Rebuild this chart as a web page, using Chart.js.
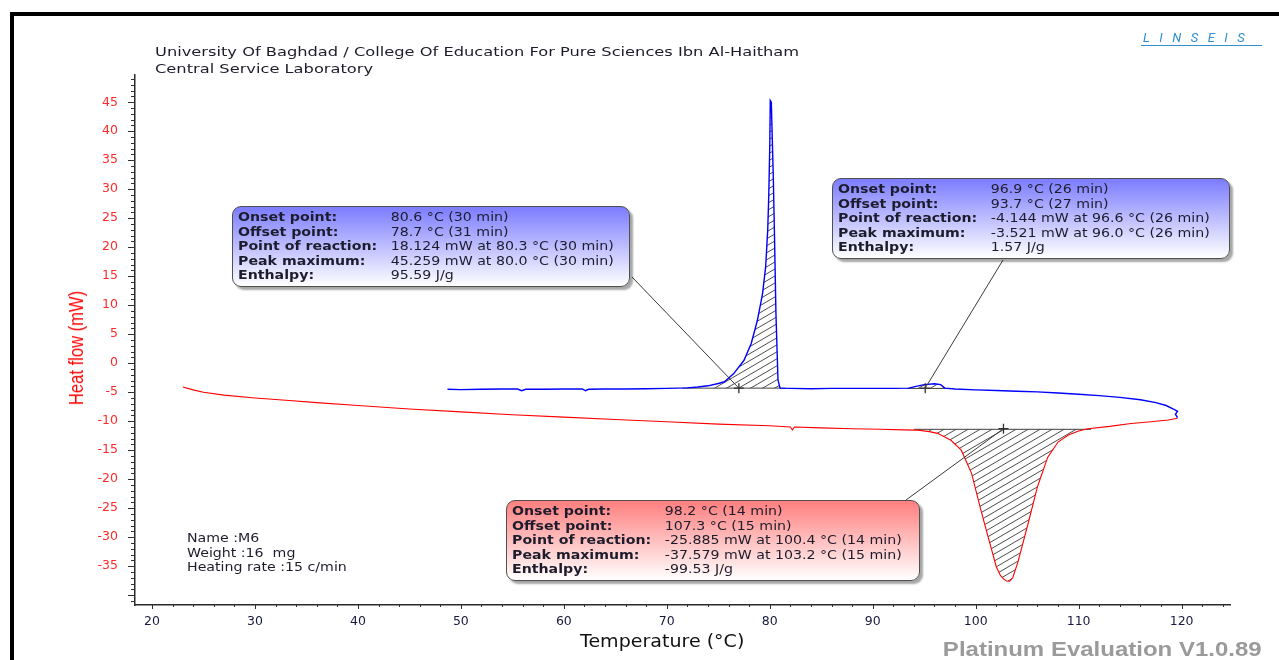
<!DOCTYPE html>
<html lang="en">
<head>
<meta charset="UTF-8">
<title>DSC - M6</title>
<script src="https://cdn.jsdelivr.net/npm/chart.js"></script>
<style>
  body {
    margin: 0;
    width: 1279px;
    height: 660px;
    overflow: hidden;
    position: relative;
    background: #fff;
    font-family: "DejaVu Sans", Verdana, sans-serif;
  }
  .frame {
    position: absolute;
    left: 10px;
    top: 12px;
    width: 1300px;
    height: 700px;
    border: 4px solid #000;
    box-sizing: border-box;
  }
  #dsc { position: absolute; left: 0; top: 0; }
  .wide { transform: scaleX(1.18); transform-origin: left top; white-space: nowrap; }
  .header {
    position: absolute; left: 155px; top: 43px;
    font-size: 13px; line-height: 17px; color: #1c1c2c;
    transform: scaleX(1.25); transform-origin: left top; white-space: nowrap;
  }
  .logo {
    position: absolute; left: 1141px; top: 31px; width: 121px;
    font: italic 400 13px Roboto, sans-serif; letter-spacing: 9.5px;
    color: #2f8fd2; border-bottom: 1.5px solid #2f8fd2; line-height: 14px;
    padding-left: 2px; box-sizing: border-box;
  }
  .sample {
    position: absolute; left: 187px; top: 531px;
    font-size: 12px; line-height: 14.5px; color: #1c1c2c;
    transform: scaleX(1.18); transform-origin: left top; white-space: pre;
  }
  .ytitle {
    position: absolute; left: 76px; top: 348px;
    font: 21px "Liberation Sans", Arial, sans-serif; color: #ff0000;
    white-space: nowrap;
    transform: translate(-50%, -50%) rotate(-90deg) scaleX(0.79);
  }
  .xtitle {
    position: absolute; left: 580px; top: 630px;
    font-size: 17px; line-height: 22px; color: #111;
    white-space: nowrap;
    transform: scaleX(1.12); transform-origin: left top;
  }
  .box {
    position: absolute;
    border: 1.5px solid #505050;
    border-radius: 9px;
    box-shadow: 3px 3px 2px rgba(0,0,0,0.35);
    box-sizing: border-box;
    padding: 3px 0 0 5px;
    font-size: 12px; line-height: 14.5px; color: #1c1c2c;
  }
  .box.blue { background: linear-gradient(#7c7cff, #ffffff); }
  .box.red { background: linear-gradient(#ff7f7f, #ffffff); }
  .box b { display: inline-block; width: 129.5px; }
  .version {
    position: absolute; right: 17px; top: 637px;
    font: bold 20px "Liberation Sans", Arial, sans-serif; line-height: 24px;
    color: #9a9a9a; transform: scaleX(1.2); transform-origin: right top;
    white-space: nowrap;
  }
</style>
</head>
<body>
<div class="frame"></div>
<canvas id="dsc" width="1279" height="660"></canvas>

<div class="header">University Of Baghdad / College Of Education For Pure Sciences Ibn Al-Haitham<br>Central Service Laboratory</div>
<div class="logo">LINSEIS</div>
<div class="sample" id="sample"></div>
<div class="ytitle">Heat flow (mW)</div>
<div class="xtitle">Temperature (°C)</div>

<div class="box blue" id="box1" style="left:232px; top:206px; width:398px; height:81px;"></div>
<div class="box blue" id="box2" style="left:832px; top:178px; width:398px; height:81px;"></div>
<div class="box red" id="box3" style="left:506px; top:500px; width:414px; height:81px;"></div>

<div class="version">Platinum Evaluation V1.0.89</div>

<script>
// heating run (blue), temperature in degC and heat flow in mW
const blueTemp = [48.7, 50, 52, 54, 55.5, 55.9, 56.3, 58, 60, 61.8, 62.1, 62.4, 64, 66, 68, 70, 72, 73, 74, 75,
  75.6, 76.5, 77.5, 78.2, 78.8, 79.3, 79.6, 79.8, 79.9, 80.0, 80.05, 80.15, 80.25, 80.35, 80.45, 80.6, 80.8, 81.0,
  82, 84, 86, 88, 90, 92, 93.5, 94.2, 95, 96, 96.6, 97, 98, 100, 102, 104, 106, 108, 110, 112, 114, 116, 117.5,
  118.5, 119.2, 119.6, 119.4, 119.6];
const blueFlow = [-4.5, -4.55, -4.5, -4.45, -4.45, -4.75, -4.5, -4.5, -4.45, -4.45, -4.75, -4.5, -4.45, -4.45, -4.4, -4.35, -4.25, -4.1, -3.9, -3.5,
  -3.2, -1.8, 0.5, 3.4, 7.4, 12, 16.6, 22.9, 28.7, 37.3, 45.3, 45.0, 38.4, 31.6, 22.9, 8.6, -2.9, -4.3,
  -4.35, -4.4, -4.35, -4.35, -4.35, -4.35, -4.3, -4.0, -3.7, -3.55, -3.7, -4.3, -4.45, -4.6, -4.7, -4.85, -4.95, -5.15, -5.35, -5.6, -5.9, -6.3, -6.8,
  -7.3, -7.9, -8.3, -8.8, -9.4];

// cooling run (red)
const redTemp = [23.0, 24, 25, 27, 30, 33, 36, 40, 45, 50, 55, 60, 65, 70, 75, 80,
  82.0, 82.2, 82.4, 85, 88, 90.8, 93, 94.4, 95.5, 96.3, 97.6, 98.6, 99.6, 100.5, 101.2, 102.0, 102.4, 102.7, 103.0, 103.3, 103.6,
  104.1, 105.1, 106.0, 107.0, 108.0, 109.0, 110.0, 110.9, 113, 115.1, 117, 118.7, 119.6];
const redFlow = [-4.1, -4.6, -5.0, -5.5, -6.0, -6.4, -6.8, -7.3, -7.9, -8.4, -8.9, -9.3, -9.7, -10.1, -10.5, -10.8,
  -11.0, -11.5, -11.0, -11.15, -11.3, -11.4, -11.5, -11.55, -11.8, -12.1, -13.3, -15, -19.0, -25.3, -29.9, -35.1, -36.6, -37.2, -37.55, -37.6, -37.0,
  -34.3, -27.6, -21.3, -16.2, -13.6, -12.4, -11.7, -11.3, -10.9, -10.4, -10.1, -9.8, -9.5];

// evaluated peaks: integration range, baseline level, baseline extent, onset marker
const peakNames = ['Peak 1', 'Peak 2', 'Peak 3'];
const peakRange = [[73.8, 81.0], [93.5, 97.0], [94.4, 110.9]];
const peakBase = [-4.3, -4.35, -11.4];
const baseRange = [[71.5, 81.5], [93.3, 97.4], [94.0, 111.2]];
const onsetTemp = [77.0, 95.1, 102.7];
const onsetFlow = [-4.3, -4.3, -11.3];

// evaluation boxes
const boxLabels = ['Onset point:', 'Offset point:', 'Point of reaction:', 'Peak maximum:', 'Enthalpy:'];
const peak1Values = ['80.6 °C (30 min)', '78.7 °C (31 min)', '18.124 mW at 80.3 °C (30 min)', '45.259 mW at 80.0 °C (30 min)', '95.59 J/g'];
const peak2Values = ['96.9 °C (26 min)', '93.7 °C (27 min)', '-4.144 mW at 96.6 °C (26 min)', '-3.521 mW at 96.0 °C (26 min)', '1.57 J/g'];
const peak3Values = ['98.2 °C (14 min)', '107.3 °C (15 min)', '-25.885 mW at 100.4 °C (14 min)', '-37.579 mW at 103.2 °C (15 min)', '-99.53 J/g'];
const sampleInfo = ['Name :M6', 'Weight :16  mg', 'Heating rate :15 c/min'];

const xMin = 18.35, xMax = 124.7;
const yMin = -41.7, yMax = 49.7;

function fillBox(id, values) {
    document.getElementById(id).innerHTML = '<div class="wide">' +
        boxLabels.map((l, i) => `<div><b>${l}</b>${values[i]}</div>`).join('') + '</div>';
}
fillBox('box1', peak1Values);
fillBox('box2', peak2Values);
fillBox('box3', peak3Values);
document.getElementById('sample').textContent = sampleInfo.join('\n');

const toXY = (xs, ys) => xs.map((x, i) => ({ x: x, y: ys[i] }));
const inRange = (pts, r) => pts.filter(p => p.x >= r[0] && p.x <= r[1]);

const bluePts = toXY(blueTemp, blueFlow);
const redPts = toXY(redTemp, redFlow);

function hatchPattern() {
    const c = document.createElement('canvas');
    c.width = 12; c.height = 7;
    const g = c.getContext('2d');
    g.strokeStyle = '#1e1e1e';
    g.lineWidth = 0.8;
    g.beginPath();
    for (let m = -1; m <= 1; m++) {
        g.moveTo(-1, 7 + 7 / 12 + m * 7);
        g.lineTo(13, -7 / 12 + m * 7);
    }
    g.stroke();
    return document.getElementById('dsc').getContext('2d').createPattern(c, 'repeat');
}
const hatch = hatchPattern();

// leader lines from the boxes to the onset markers (box corners in page pixels)
const leaderFrom = [[632, 277], [1003, 260], [906, 500]];

const extras = {
    id: 'extras',
    afterDraw(chart) {
        const { ctx, chartArea, scales: { x, y } } = chart;
        ctx.save();
        ctx.strokeStyle = '#303030';
        ctx.lineWidth = 1;
        ctx.beginPath();
        for (let v = Math.ceil(y.min); v <= y.max; v++) {
            const py = Math.round(y.getPixelForValue(v)) + 0.5;
            const len = v % 5 === 0 ? 7 : 4;
            ctx.moveTo(chartArea.left - len, py);
            ctx.lineTo(chartArea.left, py);
        }
        for (let v = 20; v <= x.max; v += 2) {
            const px = Math.round(x.getPixelForValue(v)) + 0.5;
            const len = v % 10 === 0 ? 4 : 2;
            ctx.moveTo(px, chartArea.bottom);
            ctx.lineTo(px, chartArea.bottom + len);
        }
        ctx.stroke();
        ctx.strokeStyle = '#3a3a3a';
        ctx.beginPath();
        leaderFrom.forEach((p, i) => {
            ctx.moveTo(p[0], p[1]);
            ctx.lineTo(x.getPixelForValue(onsetTemp[i]), y.getPixelForValue(onsetFlow[i]));
        });
        ctx.stroke();
        ctx.restore();
    }
};

const datasets = [
    { label: 'Onset', data: toXY(onsetTemp, onsetFlow), showLine: false, pointStyle: 'cross',
      pointRadius: 5, pointBorderColor: '#303030', pointBorderWidth: 1.3 },
    { label: 'Heating', data: bluePts, borderColor: '#0000ff', borderWidth: 1.4 },
    { label: 'Cooling', data: redPts, borderColor: '#ff0000', borderWidth: 1.1 }
];
peakNames.forEach((name, i) => {
    datasets.push({ label: name + ' baseline',
        data: [{ x: baseRange[i][0], y: peakBase[i] }, { x: baseRange[i][1], y: peakBase[i] }],
        borderColor: '#404040', borderWidth: 1 });
});
const peakSource = [bluePts, bluePts, redPts];
peakNames.forEach((name, i) => {
    datasets.push({ label: name + ' area', data: inRange(peakSource[i], peakRange[i]),
        borderWidth: 0, borderColor: 'rgba(0,0,0,0)', backgroundColor: hatch,
        fill: { value: peakBase[i] } });
});
datasets.forEach(d => { if (d.pointRadius === undefined) d.pointRadius = 0; });

new Chart(document.getElementById('dsc'), {
    type: 'line',
    data: { datasets: datasets },
    options: {
        responsive: false,
        animation: false,
        devicePixelRatio: 1,
        layout: { padding: { top: 75, right: 49, left: 0, bottom: 0 } },
        plugins: { legend: { display: false }, tooltip: { enabled: false } },
        scales: {
            x: {
                type: 'linear', min: xMin, max: xMax,
                afterFit: s => { s.height = 55; },
                grid: { display: false, drawTicks: false },
                border: { display: true, color: '#2a2a2a', width: 1.5 },
                ticks: {
                    stepSize: 10, includeBounds: false, autoSkip: false, maxRotation: 0, padding: 9,
                    color: '#1a1a40', font: { family: 'DejaVu Sans', size: 12.5 },
                    callback: v => (Math.abs(v % 10) < 1e-6 ? v : '')
                }
            },
            y: {
                min: yMin, max: yMax,
                afterFit: s => { s.width = 135; },
                grid: { display: false, drawTicks: false },
                border: { display: true, color: '#2a2a2a', width: 1.5 },
                ticks: {
                    stepSize: 5, includeBounds: false, autoSkip: false, padding: 17,
                    color: '#ff2a2a', font: { family: 'DejaVu Sans', size: 12.5 },
                    callback: v => (Math.abs(v % 5) < 1e-6 && v > -40 ? v : '')
                }
            }
        }
    },
    plugins: [extras]
});
</script>
</body>
</html>
